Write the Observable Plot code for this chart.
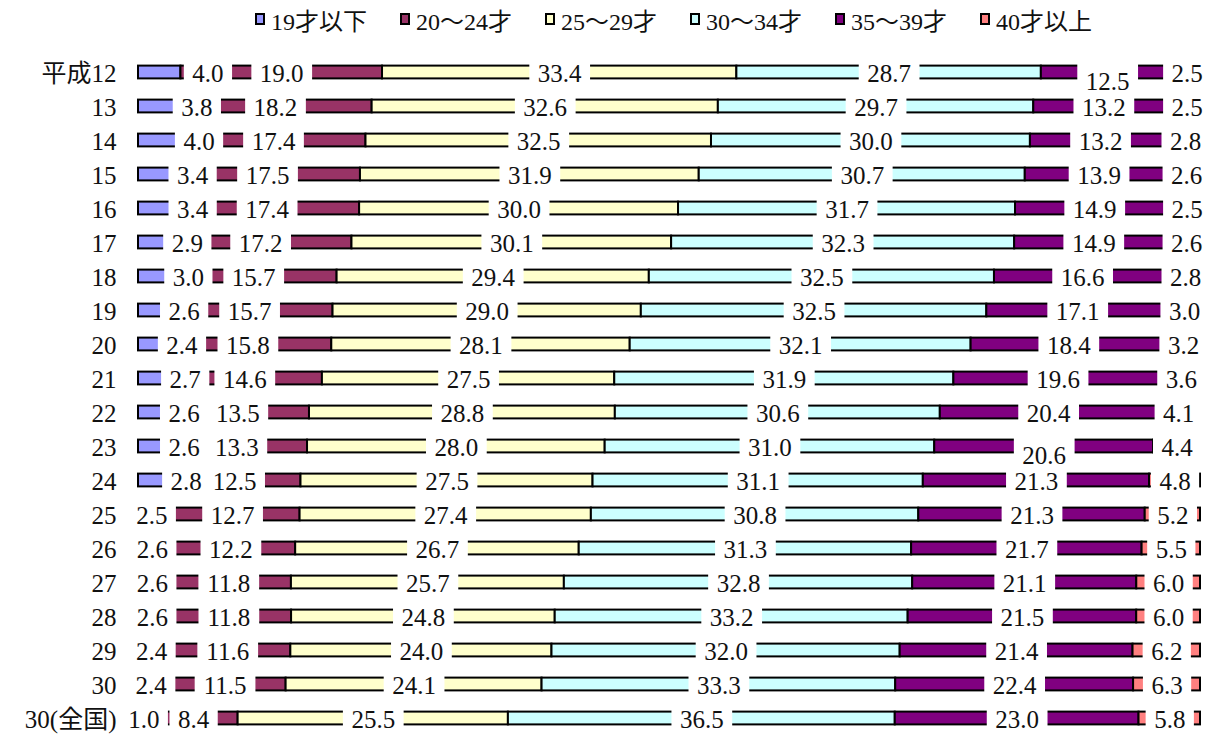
<!DOCTYPE html>
<html><head><meta charset="utf-8">
<script src="https://cdn.jsdelivr.net/npm/d3@7"></script>
<script src="https://cdn.jsdelivr.net/npm/@observablehq/plot@0.6"></script>
<style>
html,body{margin:0;padding:0;background:#fff;overflow:hidden;}
#legend{position:relative;height:34px;width:1212px;font-family:"Liberation Serif","Noto Sans CJK JP",serif;font-size:24px;color:#111;}
.item{position:absolute;top:0;height:38px;display:flex;align-items:center;white-space:nowrap;}
.sw{width:10px;height:12px;box-sizing:border-box;border:2px solid #000;margin-right:6px;}
</style></head><body>
<div id="legend"></div>
<div id="chart"></div>
<script>
const rows = ["平成12","13","14","15","16","17","18","19","20","21","22","23","24","25","26","27","28","29","30","30(全国)"];
const seriesNames = ["19才以下","20～24才","25～29才","30～34才","35～39才","40才以上"];
const colors = ["#9999ff","#993366","#ffffcc","#ccffff","#800080","#ff8080"];

const ageUnder19 = [4.0,3.8,4.0,3.4,3.4,2.9,3.0,2.6,2.4,2.7,2.6,2.6,2.8,2.5,2.6,2.6,2.6,2.4,2.4,1.0];
const age20to24  = [19.0,18.2,17.4,17.5,17.4,17.2,15.7,15.7,15.8,14.6,13.5,13.3,12.5,12.7,12.2,11.8,11.8,11.6,11.5,8.4];
const age25to29  = [33.4,32.6,32.5,31.9,30.0,30.1,29.4,29.0,28.1,27.5,28.8,28.0,27.5,27.4,26.7,25.7,24.8,24.0,24.1,25.5];
const age30to34  = [28.7,29.7,30.0,30.7,31.7,32.3,32.5,32.5,32.1,31.9,30.6,31.0,31.1,30.8,31.3,32.8,33.2,32.0,33.3,36.5];
const age35to39  = [12.5,13.2,13.2,13.9,14.9,14.9,16.6,17.1,18.4,19.6,20.4,20.6,21.3,21.3,21.7,21.1,21.5,21.4,22.4,23.0];
const age40over  = [2.5,2.5,2.8,2.6,2.5,2.6,2.8,3.0,3.2,3.6,4.1,4.4,4.8,5.2,5.5,6.0,6.0,6.2,6.3,5.8];
const seriesValues = [ageUnder19, age20to24, age25to29, age30to34, age35to39, age40over];

// legend
const legend = document.getElementById("legend");
seriesNames.forEach((name, i) => {
  const it = document.createElement("div");
  it.className = "item";
  it.style.left = (255 + i * 145) + "px";
  const sw = document.createElement("div");
  sw.className = "sw";
  sw.style.background = colors[i];
  const tx = document.createElement("span");
  tx.textContent = name;
  it.appendChild(sw); it.appendChild(tx);
  legend.appendChild(it);
});

// label placement style (pixels), not data
function nudge(r, s) {
  let dx = 0, dy = 1;
  if (s === 0 && r === 0) dx = 27;
  else if (s === 0 && r <= 12) dx = 18;
  if (s === 4 && (r === 0 || r === 11)) dy = 9;
  return [dx, dy];
}

const table = [];
rows.forEach((row, r) => {
  const total = seriesValues.reduce((a, arr) => a + arr[r], 0);
  let acc = 0;
  seriesNames.forEach((name, s) => {
    const v = seriesValues[s][r];
    const x1 = acc / total * 100;
    acc += v;
    const x2 = acc / total * 100;
    const label = v.toFixed(1);
    const [dx, dy] = nudge(r, s);
    const shifted = dx !== 0;
    const digits = label.replace(".", "").length;
    table.push({row, series: name, value: v, x1, x2,
      xl: shifted ? x2 : (x1 + x2) / 2,
      label, dx, dy, w: digits * 12.5 + 6.25 + 17});
  });
});

const groups = d3.groups(table, d => d.dx + "|" + d.dy);
const font = '"Liberation Serif","Noto Sans CJK JP",serif';
const boxMarks = groups.map(([k, g]) => Plot.tickX(g, {
  x: "xl", y: "row", stroke: "#fff", strokeWidth: "w", dx: g[0].dx,
  insetTop: 7.2, insetBottom: 7.2
}));
const textMarks = groups.map(([k, g]) => Plot.text(g, {
  x: "xl", y: "row", text: "label", dx: g[0].dx, dy: g[0].dy,
  fontSize: 25, fill: "#111", fontFamily: font
}));

const chart = Plot.plot({
  width: 1212, height: 704,
  marginLeft: 138, marginRight: 12, marginTop: 18, marginBottom: 0,
  x: {domain: [0, 100], axis: null},
  y: {domain: rows, padding: 0, axis: null},
  color: {domain: seriesNames, range: colors},
  style: {fontFamily: font, fontSize: "24px", color: "#111", background: "#fff"},
  marks: [
    Plot.barX(table, {x1: "x1", x2: "x2", y: "row", fill: "series",
      stroke: "#000", strokeWidth: 2, insetTop: 10.6, insetBottom: 10.6}),
    ...boxMarks,
    ...textMarks,
    Plot.text(rows, {y: d => d, text: d => d, frameAnchor: "left", textAnchor: "end",
      dx: -22, dy: 1, fontSize: 25, fill: "#111", fontFamily: font})
  ]
});
document.getElementById("chart").appendChild(chart);
</script>
</body></html>
